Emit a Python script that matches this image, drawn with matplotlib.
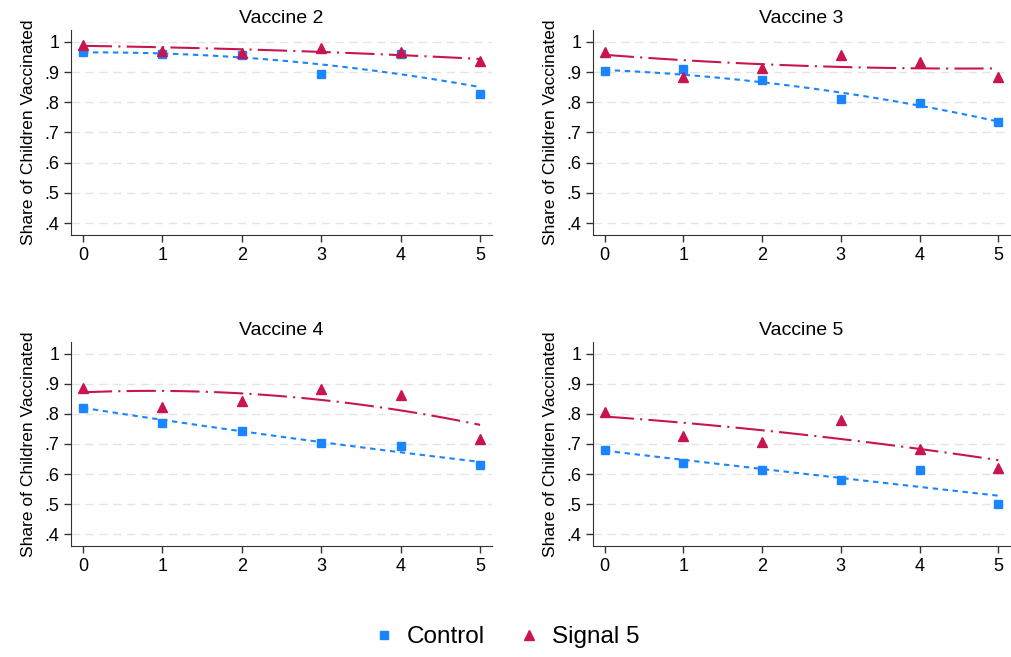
"""
Share of children vaccinated by period, Control vs Signal 5, with quadratic fits
(one panel per vaccine).
"""

import matplotlib

matplotlib.use("Agg")

import matplotlib.pyplot as plt  # noqa: E402
import numpy as np  # noqa: E402
from matplotlib.lines import Line2D  # noqa: E402

plt.rcParams["font.family"] = ["Liberation Sans", "DejaVu Sans"]

PERIODS = [0, 1, 2, 3, 4, 5]
VACCINES = ["Vaccine 2", "Vaccine 3", "Vaccine 4", "Vaccine 5"]

# group means per period
CONTROL_V2 = [0.965, 0.958, 0.956, 0.894, 0.958, 0.828]
SIGNAL_V2 = [0.991, 0.969, 0.962, 0.981, 0.966, 0.935]
CONTROL_V3 = [0.903, 0.909, 0.872, 0.810, 0.798, 0.736]
SIGNAL_V3 = [0.967, 0.882, 0.912, 0.956, 0.934, 0.884]
CONTROL_V4 = [0.821, 0.770, 0.744, 0.704, 0.692, 0.630]
SIGNAL_V4 = [0.886, 0.822, 0.844, 0.884, 0.864, 0.718]
CONTROL_V5 = [0.679, 0.638, 0.613, 0.582, 0.612, 0.499]
SIGNAL_V5 = [0.806, 0.728, 0.707, 0.779, 0.682, 0.620]

# quadratic-fit values at each period (fit was on child-level data)
CONTROL_FIT_V2 = [0.965, 0.961, 0.948, 0.925, 0.893, 0.850]
SIGNAL_FIT_V2 = [0.987, 0.981, 0.975, 0.967, 0.956, 0.943]
CONTROL_FIT_V3 = [0.906, 0.892, 0.867, 0.831, 0.788, 0.737]
SIGNAL_FIT_V3 = [0.957, 0.939, 0.926, 0.917, 0.912, 0.912]
CONTROL_FIT_V4 = [0.821, 0.779, 0.742, 0.707, 0.673, 0.640]
SIGNAL_FIT_V4 = [0.872, 0.876, 0.868, 0.846, 0.813, 0.763]
CONTROL_FIT_V5 = [0.678, 0.647, 0.617, 0.587, 0.558, 0.528]
SIGNAL_FIT_V5 = [0.793, 0.768, 0.744, 0.719, 0.685, 0.645]

CONTROL = [CONTROL_V2, CONTROL_V3, CONTROL_V4, CONTROL_V5]
SIGNAL = [SIGNAL_V2, SIGNAL_V3, SIGNAL_V4, SIGNAL_V5]
CONTROL_FIT = [CONTROL_FIT_V2, CONTROL_FIT_V3, CONTROL_FIT_V4, CONTROL_FIT_V5]
SIGNAL_FIT = [SIGNAL_FIT_V2, SIGNAL_FIT_V3, SIGNAL_FIT_V4, SIGNAL_FIT_V5]

Y_TICKS = [0.4, 0.5, 0.6, 0.7, 0.8, 0.9, 1.0]
Y_TICK_LABELS = [".4", ".5", ".6", ".7", ".8", ".9", "1"]

BLUE = "#1a85ff"
RED = "#c8154f"
W, H = 1011, 657

# axes rectangles in pixels: left, top, right, bottom
BOXES = [
    (71, 30, 492, 235),
    (593, 30, 1010, 235),
    (71, 342, 492, 546),
    (593, 342, 1010, 546),
]


def smooth(x, y):
    """Quadratic curve through the fitted values, for a smooth line."""
    coef = np.polyfit(x, y, 2)
    xs = np.linspace(min(x), max(x), 100)
    return xs, np.polyval(coef, xs)


fig = plt.figure(figsize=(W / 100, H / 100), dpi=100)

for i, (l, t, r, b) in enumerate(BOXES):
    ax = fig.add_axes([l / W, 1 - b / H, (r - l) / W, (b - t) / H])

    xs, ys = smooth(PERIODS, CONTROL_FIT[i])
    ax.plot(xs, ys, color=BLUE, linestyle=(0, (2.6, 2.2)), linewidth=1.5, zorder=2)
    xs, ys = smooth(PERIODS, SIGNAL_FIT[i])
    ax.plot(xs, ys, color=RED, linestyle=(0, (14, 3, 1, 3)), linewidth=1.5, zorder=2)

    ax.plot(PERIODS, CONTROL[i], "s", color=BLUE, markersize=5.5, linestyle="none", zorder=3)
    ax.plot(PERIODS, SIGNAL[i], "^", color=RED, markersize=6.5, linestyle="none", zorder=4)

    ax.set_xlim(-0.15, 5.15)
    ax.set_ylim(0.361, 1.039)
    ax.set_xticks(PERIODS)
    ax.set_yticks(Y_TICKS)
    ax.set_yticklabels(Y_TICK_LABELS)
    ax.yaxis.grid(True, color="#e4e4e4", linestyle=(0, (6, 4)), linewidth=1.0)
    ax.set_axisbelow(True)
    ax.tick_params(labelsize=13, length=5, width=1, color="#333333")
    for side in ("top", "right"):
        ax.spines[side].set_visible(False)
    for side in ("left", "bottom"):
        ax.spines[side].set_color("#333333")
    ax.set_title(VACCINES[i], fontsize=14, pad=5)
    ax.set_ylabel("Share of Children Vaccinated", fontsize=12.5, labelpad=6)

handles = [
    Line2D([], [], marker="s", color=BLUE, linestyle="none", markersize=5.5),
    Line2D([], [], marker="^", color=RED, linestyle="none", markersize=6.5),
]
fig.legend(
    handles,
    ["Control", "Signal 5"],
    loc="center",
    bbox_to_anchor=(0.5, 1 - 637 / H),
    ncol=2,
    frameon=False,
    fontsize=17.5,
    handlelength=1.0,
    handletextpad=0.45,
    columnspacing=1.3,
)

fig.savefig("out.png", dpi=100)
